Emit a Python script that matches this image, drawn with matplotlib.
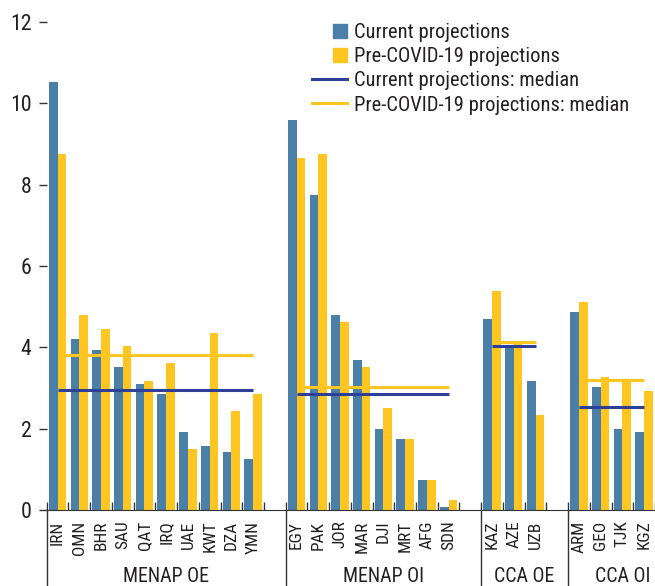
import matplotlib
matplotlib.use("Agg")
import matplotlib.pyplot as plt
import matplotlib.transforms as mtransforms
from matplotlib import font_manager
from matplotlib.font_manager import FontProperties
from matplotlib.textpath import TextToPath
from matplotlib.patches import Rectangle, Patch
from matplotlib.lines import Line2D
from matplotlib.legend_handler import HandlerPatch
import numpy as np

# --- data -------------------------------------------------------------
groups = ["MENAP OE", "MENAP OI", "CCA OE", "CCA OI"]
countries = [
    ["IRN", "OMN", "BHR", "SAU", "QAT", "IRQ", "UAE", "KWT", "DZA", "YMN"],
    ["EGY", "PAK", "JOR", "MAR", "DJI", "MRT", "AFG", "SDN"],
    ["KAZ", "AZE", "UZB"],
    ["ARM", "GEO", "TJK", "KGZ"],
]
current = [
    [10.53, 4.20, 3.93, 3.52, 3.10, 2.85, 1.92, 1.57, 1.43, 1.25],
    [9.59, 7.75, 4.79, 3.69, 1.99, 1.75, 0.74, 0.07],
    [4.70, 4.03, 3.17],
    [4.87, 3.02, 1.99, 1.92],
]
pre_covid = [
    [8.75, 4.79, 4.45, 4.03, 3.17, 3.61, 1.50, 4.35, 2.43, 2.85],
    [8.65, 8.75, 4.62, 3.52, 2.51, 1.75, 0.74, 0.25],
    [5.39, 4.11, 2.34],
    [5.12, 3.27, 3.20, 2.93],
]
median_current = [2.95, 2.86, 4.04, 2.54]
median_pre = [3.80, 3.03, 4.12, 3.19]

BLUE = "#4a7fa7"
YELLOW = "#ffc520"
NAVY = "#2e3f97"
TEXT = "#231f20"


def pick_font():
    # the original uses a condensed grotesque; take a narrow face if one exists
    entries = font_manager.fontManager.ttflist
    names = {f.name for f in entries}
    for cand in ["Liberation Sans Narrow", "Arial Narrow", "Roboto Condensed",
                 "Noto Sans Condensed", "Open Sans Condensed"]:
        if cand in names:
            return cand, "normal"
    for fam in ["Noto Sans", "Open Sans", "Roboto", "DejaVu Sans"]:
        for f in entries:
            if f.name == fam and f.stretch in ("condensed", "semi-condensed") \
                    and f.style == "normal" and f.weight in (400, "normal", "regular"):
                return fam, f.stretch
    return "Liberation Sans", "normal"


FAMILY, STRETCH = pick_font()
plt.rcParams["font.family"] = [FAMILY, "DejaVu Sans"]
plt.rcParams["font.stretch"] = STRETCH


def measure(text, size):
    prop = FontProperties(family=FAMILY, stretch=STRETCH, size=size)
    return TextToPath().get_text_width_height_descent(text, prop, ismath=False)


def fit(text, px):
    # font size (pt) that makes `text` about `px` pixels wide at 100 dpi
    w, _, _ = measure(text, 10)
    return 10 * px * 0.72 / w


fs_legend = fit("Pre-COVID-19 projections: median", 274)
fs_tick = fit("10", 21.6)
fs_country = fit("OMN", 34)
fs_group = fit("MENAP OE", 86)

fig = plt.figure(figsize=(6.55, 5.86), dpi=100)
ax = fig.add_axes([46.7 / 655, 1 - 510 / 586, 1 - 46.7 / 655, (510 - 22) / 586])

width = 0.4
slot = 0
bounds = [0]
trans = mtransforms.blended_transform_factory(ax.transData, ax.transAxes)
for g, names in enumerate(countries):
    n = len(names)
    centers = np.arange(slot, slot + n) + 0.5
    ax.bar(centers - width / 2, current[g], width, color=BLUE, zorder=2)
    ax.bar(centers + width / 2, pre_covid[g], width, color=YELLOW, zorder=2)
    ax.plot([centers[0], centers[-1]], [median_pre[g]] * 2, color=YELLOW,
            lw=2.2, solid_capstyle="butt", zorder=3)
    ax.plot([centers[0], centers[-1]], [median_current[g]] * 2, color=NAVY,
            lw=2.2, solid_capstyle="butt", zorder=3)
    for c, name in zip(centers, names):
        ax.text(c, -0.022, name, rotation=90, ha="center", va="top",
                fontsize=fs_country, color=TEXT, transform=trans)
    slot += n + 1
    bounds.append(slot)

for i, b in enumerate(bounds[:-1]):
    ax.plot([b, b], [0, -0.2], color="#333333", lw=1.0, clip_on=False,
            transform=trans)
    mid = (b + bounds[i + 1]) / 2
    ax.text(mid, -(585.5 - 510) / 488, groups[i], ha="center", va="bottom",
            fontsize=fs_group, color=TEXT, transform=trans)

ax.set_xlim(0, bounds[-1] - 1)
ax.set_ylim(0, 12)
ax.set_yticks(np.arange(0, 13, 2))
ax.tick_params(axis="y", direction="out", length=6, width=1, pad=5,
               labelsize=fs_tick, colors="#333333", labelcolor=TEXT)
ax.set_xticks(np.arange(0, bounds[-1]))
ax.set_xticklabels([])
ax.tick_params(axis="x", direction="in", length=6, width=1, colors="#333333")
for s in ["top", "right", "left"]:
    ax.spines[s].set_visible(False)
ax.spines["bottom"].set_color("#333333")


def square_patch(legend, orig_handle, xdescent, ydescent, width, height, fontsize):
    s = 10.0
    return Rectangle((-xdescent + width - s, -ydescent + (height - s) / 2), s, s)


fs_px = fs_legend / 0.72
_, lp_h, _ = measure("lp", fs_legend)
row_px = lp_h / 0.72
handles = [
    Patch(color=BLUE, label="Current projections"),
    Patch(color=YELLOW, label="Pre-COVID-19 projections"),
    Line2D([], [], color=NAVY, lw=2.2, label="Current projections: median"),
    Line2D([], [], color=YELLOW, lw=2.2, label="Pre-COVID-19 projections: median"),
]
fig.legend(handles=handles, loc="upper left",
           bbox_to_anchor=(312 / 655, 1 - (33 - row_px / 2) / 586),
           frameon=False, fontsize=fs_legend,
           handlelength=35 / fs_px, handletextpad=7 / fs_px,
           labelspacing=max(0.0, (24.6 - row_px) / fs_px),
           borderaxespad=0, borderpad=0, labelcolor=TEXT,
           handler_map={Patch: HandlerPatch(patch_func=square_patch)})

fig.savefig("out.png", dpi=100)
